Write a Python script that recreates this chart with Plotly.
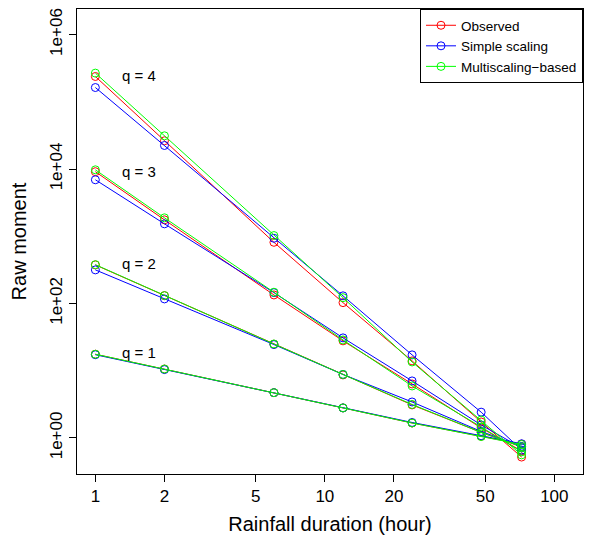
import math
import plotly.graph_objects as go

durations = [1, 2, 6, 12, 24, 48, 72]

observed = {
    1: [17.6, 10.6, 4.72, 2.8, 1.67, 1.06, 0.81],
    2: [375, 131, 24.8, 8.66, 3.1, 1.21, 0.735],
    3: [9130, 1755, 134, 27.8, 6.36, 1.41, 0.64],
    4: [2.38e5, 2.63e4, 813, 103, 14.0, 1.73, 0.52],
}
simple = {
    1: [17.3, 10.4, 4.72, 2.8, 1.7, 1.08, 0.82],
    2: [316, 117, 24.5, 8.8, 3.43, 1.25, 0.75],
    3: [6920, 1530, 145, 30.8, 7.05, 1.56, 0.71],
    4: [1.63e5, 2.24e4, 933, 130, 17.2, 2.42, 0.66],
}
multi = {
    1: [17.6, 10.6, 4.72, 2.8, 1.67, 1.05, 0.80],
    2: [378, 131, 25.0, 8.8, 3.15, 1.21, 0.74],
    3: [9730, 1880, 147, 28.7, 5.94, 1.46, 0.62],
    4: [2.67e5, 3.12e4, 1024, 122, 13.5, 1.85, 0.56],
}

series_names = ["Observed", "Simple scaling", "Multiscaling\u2212based"]
series_colors = ["#FF0000", "#0000FF", "#00FF00"]

q_labels = ["q = 1", "q = 2", "q = 3", "q = 4"]
q_label_x = [1.55, 1.55, 1.55, 1.55]
q_label_y = [18.4, 388, 9080, 2.44e5]

x_ticks = [1, 2, 5, 10, 20, 50, 100]
y_ticks = [1, 1e2, 1e4, 1e6]
y_ticktext = ["1e+00", "1e+02", "1e+04", "1e+06"]

FONT = "Liberation Sans"

fig = go.Figure()
for name, color, data in zip(series_names, series_colors, [observed, simple, multi]):
    xs, ys = [], []
    for q in [1, 2, 3, 4]:
        xs += durations + [None]
        ys += data[q] + [None]
    fig.add_trace(go.Scatter(
        x=xs, y=ys, mode="lines+markers", name=name,
        connectgaps=False,
        line=dict(color=color, width=1),
        marker=dict(symbol="circle-open", size=8, color=color, line=dict(width=1, color=color)),
    ))

for txt, xv, yv in zip(q_labels, q_label_x, q_label_y):
    fig.add_annotation(x=math.log10(xv), y=math.log10(yv),
                       text=txt, showarrow=False, xanchor="center", yanchor="middle",
                       font=dict(size=15, color="black", family=FONT))

fig.update_layout(
    width=589, height=535,
    margin=dict(l=77, r=6, t=9, b=61, autoexpand=False),
    paper_bgcolor="white", plot_bgcolor="white",
    font=dict(family=FONT, color="black"),
    legend=dict(x=1, y=1, xanchor="right", yanchor="top",
                bordercolor="black", borderwidth=1, bgcolor="white",
                font=dict(size=13.5, family=FONT),
                tracegroupgap=0),
    showlegend=True,
)
fig.update_xaxes(
    type="log", range=[-0.08, 2.125], automargin=False,
    tickvals=x_ticks, ticktext=[str(v) for v in x_ticks],
    ticks="outside", ticklen=7, tickcolor="black", tickwidth=1,
    showgrid=False, zeroline=False,
    showline=True, linecolor="black", linewidth=1, mirror=True,
    tickfont=dict(size=17, family=FONT),
    title=dict(text="Rainfall duration (hour)", font=dict(size=20, family=FONT)),
)
fig.update_yaxes(
    type="log", range=[-0.536, 6.38], automargin=False,
    tickvals=y_ticks, ticktext=y_ticktext, tickangle=-90,
    ticks="outside", ticklen=7, tickcolor="black", tickwidth=1,
    showgrid=False, zeroline=False,
    showline=True, linecolor="black", linewidth=1, mirror=True,
    tickfont=dict(size=17, family=FONT),
    title=dict(text="Raw moment", font=dict(size=20, family=FONT)),
)

fig.write_html("out.html", config={"displayModeBar": False},
               post_script="document.body.style.margin='0px';document.body.style.overflow='hidden';")
